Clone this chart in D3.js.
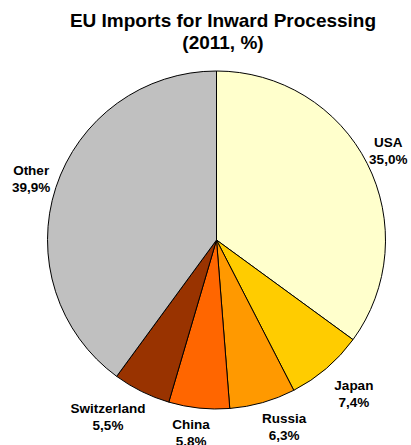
<!DOCTYPE html>
<html>
<head>
<meta charset="utf-8">
<title>EU Imports for Inward Processing</title>
<script src="https://cdn.jsdelivr.net/npm/d3@7"></script>
<style>
  body { margin: 0; background: #fff; }
  svg { display: block; font-family: "Liberation Sans", Arial, sans-serif; }
  .title { font-size: 19px; font-weight: bold; fill: #000; }
  .lbl { font-size: 13.5px; font-weight: bold; fill: #000; }
</style>
</head>
<body>
<svg width="411" height="445"></svg>
<script>
const countries = ["USA", "Japan", "Russia", "China", "Switzerland", "Other"];
const shares = [35.0, 7.4, 6.3, 5.8, 5.5, 39.9];
const shareLabels = ["35,0%", "7,4%", "6,3%", "5.8%", "5,5%", "39,9%"];
const colors = ["#FFFFCC", "#FFCC00", "#FF9900", "#FF6600", "#993300", "#C0C0C0"];

const svg = d3.select("svg");
const cx = 216.5, cy = 240, r = 169;

// title
const title = svg.append("text").attr("class", "title").attr("text-anchor", "middle");
title.append("tspan").attr("x", 223).attr("y", 27).text("EU Imports for Inward Processing");
title.append("tspan").attr("x", 223).attr("y", 49).text("(2011, %)");

const data = countries.map((c, i) => ({ name: c, value: shares[i], label: shareLabels[i], color: colors[i] }));

const pie = d3.pie().value(d => d.value).sort(null);
const arc = d3.arc().innerRadius(0).outerRadius(r);
const arcs = pie(data);

const g = svg.append("g").attr("transform", `translate(${cx},${cy})`);

g.selectAll("path")
  .data(arcs)
  .enter()
  .append("path")
  .attr("d", arc)
  .attr("fill", d => d.data.color)
  .attr("stroke", "#000")
  .attr("stroke-width", 1);

// labels sit just outside the rim, box pushed outward along the mid angle
const labelR = r + 9;
const nudge = {
  USA: [-4, 0], Japan: [9, 6], Russia: [13, 0],
  China: [-5, 0], Switzerland: [-13, 3], Other: [2, 0]
};
const lineH = 17;

const labels = g.selectAll(".lbl")
  .data(arcs)
  .enter()
  .append("text")
  .attr("class", "lbl")
  .attr("text-anchor", "middle");

labels.append("tspan").attr("x", 0).attr("y", 0).text(d => d.data.name);
labels.append("tspan").attr("x", 0).attr("y", lineH).text(d => d.data.label);

labels.each(function(d) {
  const t = d3.select(this);
  const a = (d.startAngle + d.endAngle) / 2;
  const w = this.getBBox().width, h = lineH * 2;
  const [dx, dy] = nudge[d.data.name] || [0, 0];
  const x = labelR * Math.sin(a) + Math.sin(a) * w / 2 + dx;
  const y = -labelR * Math.cos(a) - Math.cos(a) * h / 2 + dy;
  t.selectAll("tspan")
    .attr("x", x)
    .attr("y", (_, i) => y - lineH / 2 + 4 + i * lineH);
});
</script>
</body>
</html>
